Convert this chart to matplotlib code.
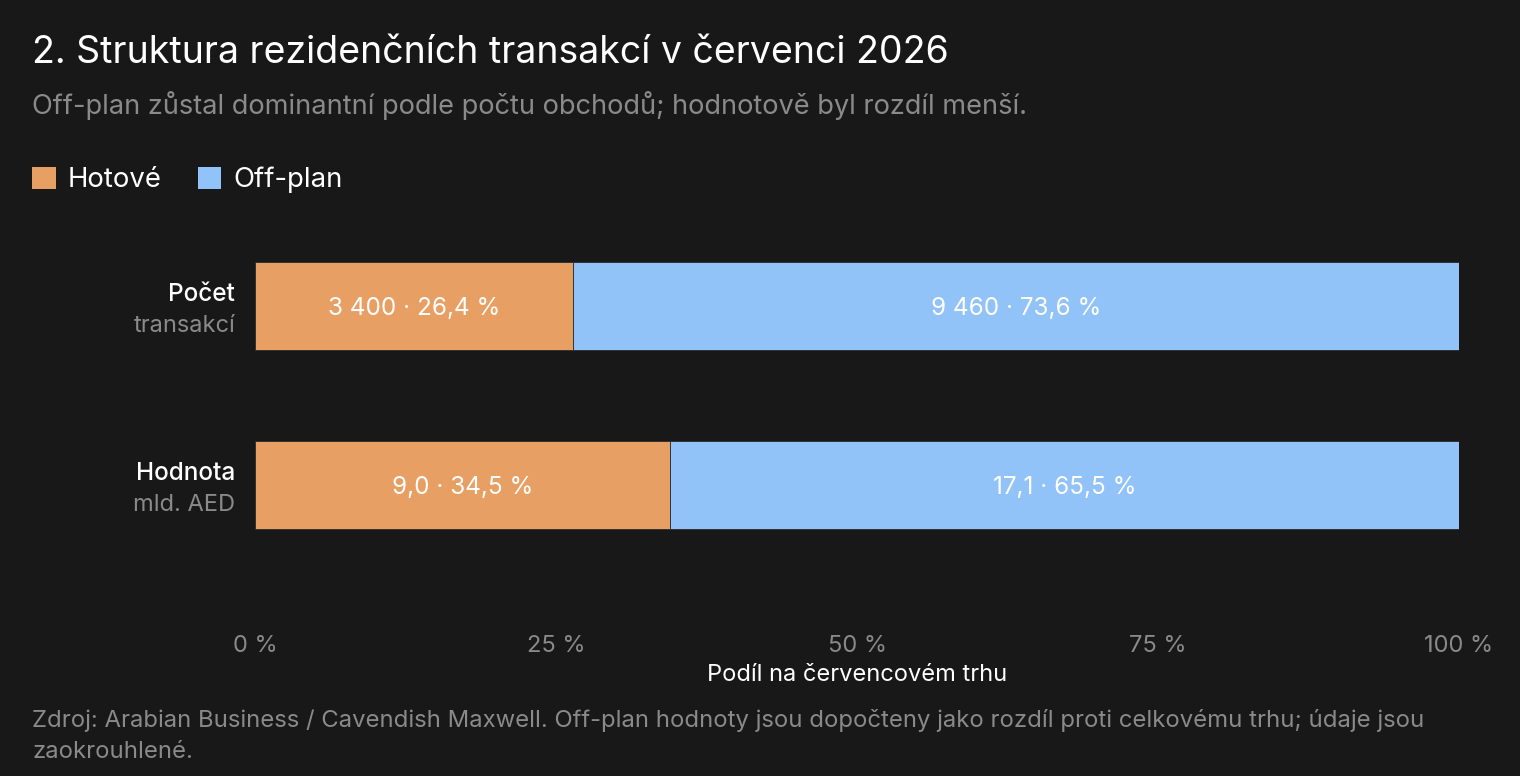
import matplotlib
matplotlib.use("Agg")
import matplotlib.pyplot as plt
from matplotlib.patches import Patch
from matplotlib.ticker import FuncFormatter

# data
rows = ["Počet", "Hodnota"]
row_units = ["transakcí", "mld. AED"]
hotove_abs = ["3 400", "9,0"]
offplan_abs = ["9 460", "17,1"]
hotove_pct = [26.4, 34.5]
offplan_pct = [73.6, 65.5]
xticks = [0, 25, 50, 75, 100]

bg = "#181818"
c_hot = "#E89F63"
c_off = "#91C2F8"
grey = "#8a8a8a"

plt.rcParams['font.family'] = ['Inter', 'DejaVu Sans']

fig = plt.figure(figsize=(15.2, 7.76), dpi=100, facecolor=bg)
# axes placed in pixels: left 255, right 1459, top 230, bottom 620
W, H = 1520, 776
ax = fig.add_axes([255 / W, 1 - 620 / H, (1459 - 255) / W, (620 - 230) / H])
ax.set_facecolor(bg)

ypos = list(range(len(rows)))
bh = 88 / 179
ax.barh(ypos, hotove_pct, height=bh, color=c_hot, edgecolor="#2a2a2a", linewidth=0.6)
ax.barh(ypos, offplan_pct, left=hotove_pct, height=bh, color=c_off, edgecolor="#2a2a2a", linewidth=0.6)

def fmt(v):
    return f"{v:.1f}".replace(".", ",") + " %"

for i in ypos:
    ax.text(hotove_pct[i] / 2, i + 0.015, f"{hotove_abs[i]} · {fmt(hotove_pct[i])}",
            ha="center", va="center", color="white", fontsize=17.5)
    ax.text(hotove_pct[i] + offplan_pct[i] / 2, i + 0.015, f"{offplan_abs[i]} · {fmt(offplan_pct[i])}",
            ha="center", va="center", color="white", fontsize=17.5)
    tr = ax.get_yaxis_transform()
    ax.text(-0.0166, i - 0.065, rows[i], transform=tr, ha="right", va="center",
            color="white", fontsize=17.5, fontweight="medium")
    ax.text(-0.0166, i + 0.112, row_units[i], transform=tr, ha="right", va="center",
            color=grey, fontsize=17)

ax.set_xlim(0, 100)
ax.set_ylim(1 + (620 - 485) / 179, -(306 - 230) / 179)
ax.set_yticks([])
ax.set_xticks(xticks)
ax.xaxis.set_major_formatter(FuncFormatter(lambda v, p: f"{v:.0f} %"))
ax.tick_params(axis="x", length=0, pad=11, labelsize=17, labelcolor=grey)
for s in ax.spines.values():
    s.set_visible(False)
ax.set_xlabel("Podíl na červencovém trhu", color="white", fontsize=17, labelpad=5)

fig.text(32 / W, 1 - 53 / H, "2. Struktura rezidenčních transakcí v červenci 2026",
         color="white", fontsize=27, va="center", ha="left")
fig.text(32 / W, 1 - 106 / H, "Off-plan zůstal dominantní podle počtu obchodů; hodnotově byl rozdíl menší.",
         color=grey, fontsize=19.6, va="center", ha="left")

handles = [Patch(facecolor=c_hot, edgecolor="none", label="Hotové"),
           Patch(facecolor=c_off, edgecolor="none", label="Off-plan")]
leg = fig.legend(handles=handles, loc="center left", bbox_to_anchor=(24 / W, 1 - 180 / H),
                 ncol=2, frameon=False, fontsize=19.8, labelcolor="white",
                 handlelength=0.85, handleheight=0.85, handletextpad=0.45, columnspacing=1.3,
                 borderaxespad=0, borderpad=0.3)

fig.text(32 / W, 1 - 721 / H,
         "Zdroj: Arabian Business / Cavendish Maxwell. Off-plan hodnoty jsou dopočteny jako rozdíl proti celkovému trhu; údaje jsou",
         color=grey, fontsize=17.2, va="center", ha="left")
fig.text(32 / W, 1 - 752 / H, "zaokrouhlené.", color=grey, fontsize=17.2, va="center", ha="left")

fig.savefig("out.png", dpi=100, facecolor=bg)
